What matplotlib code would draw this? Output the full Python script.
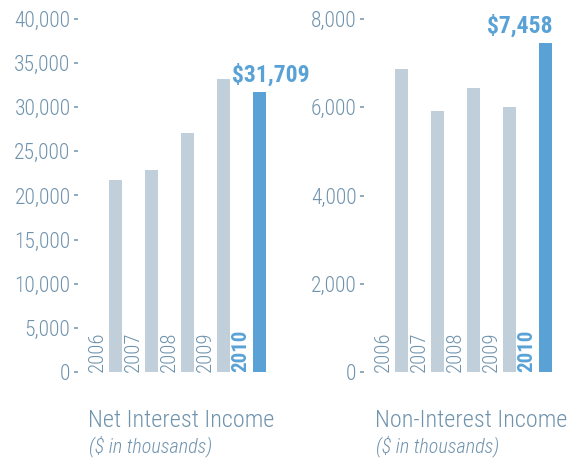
import matplotlib
matplotlib.use("Agg")
import matplotlib.pyplot as plt
from matplotlib.ticker import FuncFormatter

years = ["2006", "2007", "2008", "2009", "2010"]
net_interest = [21700, 22900, 27100, 33200, 31709]
non_interest = [6870, 5920, 6440, 6010, 7458]
net_ticks = [0, 5000, 10000, 15000, 20000, 25000, 30000, 35000, 40000]
non_ticks = [0, 2000, 4000, 6000, 8000]
titles = ["Net Interest Income", "Non-Interest Income"]
subtitle = "($ in thousands)"
labels = ["$31,709", "$7,458"]

GRAY = "#C0CFD9"
BLUE = "#5AA2D6"
TXT = "#6F93AD"
FONT = ["Roboto Condensed", "DejaVu Sans"]

plt.rcParams['font.family'] = FONT

W, H = 573, 458
fig = plt.figure(figsize=(W / 100, H / 100), dpi=100)

def make_axes(px_left, px_right, px_top, px_bottom):
    return fig.add_axes([px_left / W, 1 - px_bottom / H,
                         (px_right - px_left) / W, (px_bottom - px_top) / H])

unit = 36.0  # pixels between bars
bw = 13.0 / unit

configs = [
    dict(ax=make_axes(78, 282, 19, 372), vals=net_interest, ticks=net_ticks,
         ymax=40000, title_x=88, lbl=labels[0], lbl_off=(11, 5), lbl_ha='center'),
    dict(ax=make_axes(364, 570, 19, 372), vals=non_interest, ticks=non_ticks,
         ymax=8000, title_x=375, lbl=labels[1], lbl_off=(7, 5), lbl_ha='right'),
]

for i, c in enumerate(configs):
    ax = c['ax']
    x = list(range(len(years)))
    colors = [GRAY] * (len(years) - 1) + [BLUE]
    ax.bar(x, c['vals'], width=bw, color=colors, linewidth=0)
    width_px = (282 - 78) if i == 0 else (570 - 364)
    ax.set_xlim(-37.5 / unit, (width_px - 37.5) / unit)
    ax.set_ylim(0, c['ymax'])
    for s in ax.spines.values():
        s.set_visible(False)
    ax.set_xticks([])
    ax.set_yticks(c['ticks'])
    ax.yaxis.set_major_formatter(FuncFormatter(lambda v, p: f"{int(v):,}"))
    ax.tick_params(axis='y', direction='out', length=3.2, width=1.1, color=TXT,
                   pad=2.2, labelsize=15.5, labelcolor=TXT)
    for lab in ax.get_yticklabels():
        lab.set_fontweight('light')
    for j, yr in enumerate(years):
        last = j == len(years) - 1
        ax.text(j - 18.5 / unit, 0, yr, rotation=90, ha='center', va='bottom',
                fontsize=15, color=BLUE if last else TXT,
                fontweight='bold' if last else 'light')
    ax.annotate(c['lbl'], xy=(len(years) - 1, c['vals'][-1]),
                xytext=c['lbl_off'], textcoords='offset pixels',
                ha=c['lbl_ha'], va='bottom', fontsize=17, fontweight='bold',
                color=BLUE, annotation_clip=False)
    fig.text(c['title_x'] / W, 1 - 427 / H, titles[i], fontsize=17.5,
             color=TXT, fontweight='light', ha='left', va='baseline')
    fig.text((c['title_x'] + 1) / W, 1 - 452 / H, subtitle, fontsize=14.5,
             color=TXT, fontweight='light', style='italic', ha='left', va='baseline')

fig.savefig("out.png", dpi=100)
